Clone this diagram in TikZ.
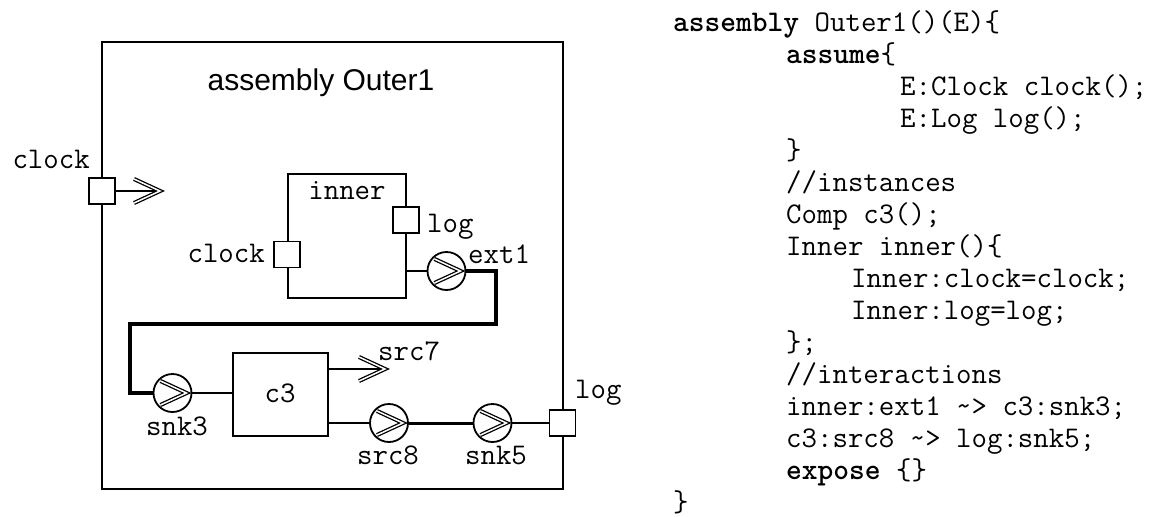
\documentclass[tikz,border=0pt]{standalone}
\usepackage{fontspec}
\newfontfamily\titlefont{Liberation Sans}
\frenchspacing
\newcommand\ringchev[1]{\draw[chevron] ([shift={(-12,-12)}]#1.center) -- ([shift={(14,0)}]#1.center) -- ([shift={(-12,12)}]#1.center);}
\newcommand\tipchev[1]{\draw[chevron] ([shift={(-26,-12)}]#1) -- (#1) -- ([shift={(-26,12)}]#1);}
\begin{document}
\begin{tikzpicture}[x=1pt,y=-1pt,
  mono/.style={font=\ttfamily\fontsize{30}{34}\selectfont, inner sep=0pt},
  codeline/.style={mono, anchor=base west},
  frame/.style={draw, line width=1.8pt, rectangle, inner sep=0pt, anchor=north west},
  port/.style={draw, fill=white, line width=1.8pt, rectangle, minimum size=26pt, inner sep=0pt},
  ring/.style={draw, fill=white, circle, line width=1.8pt, minimum size=38pt, inner sep=0pt},
  thinwire/.style={line width=1.3pt},
  midwire/.style={line width=2pt},
  thickwire/.style={line width=3.5pt, line join=miter},
  chevron/.style={double=white, double distance=1.5pt, line width=1.3pt, line join=miter, miter limit=20},
]
\useasboundingbox (0,0) rectangle (1160,517);

% outer assembly
\node[frame, minimum width=461pt, minimum height=447pt] (outer) at (101,41) {};
\node[font=\titlefont\fontsize{30}{36}\selectfont, anchor=base, inner sep=0pt] (title) at (321,90) {assembly Outer1};

% outer clock port
\coordinate (oclocktip) at (160,191);
\node[port] (oclock) at (102,191) {};
\node[mono, anchor=base east] (oclocklbl) at (90,168) {clock};
\draw[thinwire] (oclock.east) -- (oclocktip);
\tipchev{oclocktip}

% inner component
\node[frame, minimum width=118pt, minimum height=124pt] (inner) at (287,173) {};
\node[mono, anchor=base] (innerlbl) at (347,199) {inner};
\node[port] (iclock) at (287,254.5) {};
\node[mono, anchor=base east] (iclocklbl) at (265,262) {clock};
\node[port] (ilog) at (406,220) {};
\node[mono, anchor=base west] (iloglbl) at (427,232) {log};

% ext1
\node[ring] (ext1) at (446.5,271) {};
\node[mono, anchor=base west] (ext1lbl) at (468,263) {ext1};
\draw[thinwire] (inner.east |- ext1) -- (ext1.west);

% c3 and snk3
\node[ring] (snk3) at (172.5,393) {};
\node[mono, anchor=base] (snk3lbl) at (177,435) {snk3};
\node[frame, minimum width=95pt, minimum height=83pt] (c3) at (232,352) {};
\node[mono, anchor=base] (c3lbl) at (280,402) {c3};
\draw[thinwire] (snk3.east) -- (snk3.east -| c3.west);

% thick interaction ext1 -> snk3
\coordinate (b1) at (496,324);
\coordinate (b2) at (130,324);
\draw[thickwire] (ext1.east) -| (b1) -- (b2) |- (snk3.west);

% src7
\coordinate (src7tip) at (385,369);
\draw[thinwire] (c3.east |- src7tip) -- (src7tip);
\tipchev{src7tip}
\node[mono, anchor=base west] (src7lbl) at (378,360) {src7};

% src8, snk5, log port
\node[ring] (src8) at (389,423) {};
\node[ring] (snk5) at (492.5,423) {};
\node[port] (olog) at (562.5,423) {};
\draw[midwire] (c3.east |- src8) -- (src8.west);
\draw[thickwire, line width=3pt] (src8.east) -- (snk5.west);
\draw[thinwire] (snk5.east) -- (olog.west);
\node[mono, anchor=base] (src8lbl) at (388,464) {src8};
\node[mono, anchor=base] (snk5lbl) at (496,464) {snk5};
\node[mono, anchor=base west] (ologlbl) at (575,398) {log};

\ringchev{ext1}
\ringchev{snk3}
\ringchev{src8}
\ringchev{snk5}

% code
\node[codeline] (l0) at (673,31) {\textbf{assembly} Outer1()(E)\{};
\node[codeline] (l1) at (786,63) {\textbf{assume}\{};
\node[codeline] (l2) at (900,95) {E:Clock clock();};
\node[codeline] (l3) at (900,127) {E:Log log();};
\node[codeline] (l4) at (786,159) {\}};
\node[codeline] (l5) at (786,191) {//instances};
\node[codeline] (l6) at (786,223) {Comp c3();};
\node[codeline] (l7) at (786,255) {Inner inner()\{};
\node[codeline] (l8) at (851,287) {Inner:clock=clock;};
\node[codeline] (l9) at (851,319) {Inner:log=log;};
\node[codeline] (l10) at (786,351) {\};};
\node[codeline] (l11) at (786,383) {//interactions};
\node[codeline] (l12) at (786,415) {inner:ext1 \textasciitilde> c3:snk3;};
\node[codeline] (l13) at (786,447) {c3:src8 \textasciitilde> log:snk5;};
\node[codeline] (l14) at (786,479) {\textbf{expose} \{\}};
\node[codeline] (l15) at (673,511) {\}};
\end{tikzpicture}
\end{document}
